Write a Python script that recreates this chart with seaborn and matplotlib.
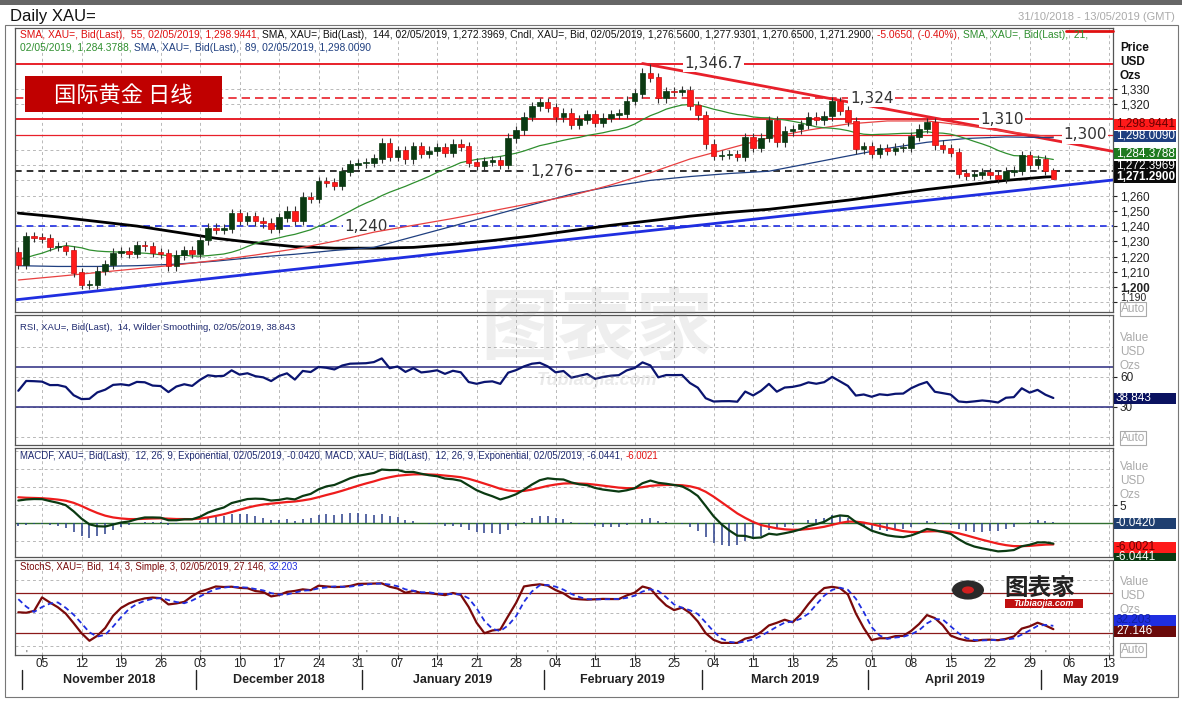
import numpy as np
import pandas as pd
import matplotlib
matplotlib.use("Agg")
import matplotlib.pyplot as plt
from matplotlib.patches import Rectangle, Circle
import seaborn as sns

# ---------------- data ----------------
pre_closes = [1201, 1194, 1196, 1199, 1193, 1197, 1198, 1209, 1202, 1201, 1200, 1199, 1204, 1208,
              1207, 1202, 1199, 1194, 1183, 1187,
              1191, 1204, 1202, 1199, 1203, 1188, 1190, 1194, 1224, 1218, 1232, 1225, 1222,
              1227, 1227, 1222, 1237, 1231, 1232, 1234, 1228, 1223]
closes = [1214.8,
          1233.0, 1232.6,
          1231.9, 1226.5, 1226.6, 1223.9, 1209.6,
          1201.4, 1201.8, 1210.6, 1214.7, 1222.4,
          1223.5, 1221.9, 1227.3, 1226.8, 1222.6,
          1222.0, 1213.8, 1221.0, 1224.2, 1222.1,
          1230.9, 1238.7, 1237.6, 1238.3, 1248.3,
          1243.8, 1246.2, 1243.2, 1242.0, 1238.2,
          1245.6, 1250.0, 1243.5, 1259.1, 1257.9,
          1269.4, 1268.5, 1266.8, 1275.9, 1280.6,
          1281.3, 1281.8, 1284.5, 1294.6, 1285.5,
          1289.6, 1284.0, 1292.2, 1287.5, 1289.3,
          1291.8, 1288.2, 1293.9, 1292.4, 1281.8,
          1279.6, 1282.2, 1283.0, 1280.3, 1297.8,
          1303.0, 1311.7, 1318.7, 1321.3, 1317.8,
          1311.5, 1314.2, 1306.7, 1309.9, 1313.3,
          1307.8, 1311.0, 1313.1, 1313.9, 1322.2,
          1326.9, 1340.5, 1337.5, 1324.1, 1328.6,
          1328.5, 1328.8, 1319.3, 1312.8, 1293.9,
          1286.3, 1286.7, 1286.8, 1285.6, 1298.3,
          1291.3, 1297.9, 1309.2, 1295.1, 1302.4,
          1303.6, 1306.5, 1311.6, 1309.5, 1312.2,
          1321.9, 1315.7, 1308.8, 1290.6, 1292.3,
          1287.5, 1291.1, 1289.6, 1291.3, 1291.6,
          1298.6, 1303.8, 1307.9, 1293.2, 1290.8,
          1288.4, 1274.7, 1273.1, 1274.0, 1275.0,
          1273.6, 1271.3, 1276.0, 1276.6, 1286.3,
          1280.3, 1283.6, 1276.56, 1271.29]
last_open = 1276.56
wick = 3.0
high_override = {80: 1346.7, 131: 1277.93}
low_override = {131: 1270.65}

sma_idx = [0, 5, 10, 15, 20, 25, 30, 35, 40, 45, 50, 55, 60, 65, 70, 75, 80, 85, 90, 95,
           100, 105, 110, 115, 120, 125, 130, 131]
sma144 = [1248.5, 1246, 1243, 1240, 1236, 1232, 1229, 1226.5, 1225.5, 1225.5, 1226, 1228, 1230.5,
          1233.5, 1237, 1240.5, 1243.5, 1246.5, 1249, 1251, 1254, 1257, 1260.5, 1264, 1267, 1270,
          1272.2, 1272.4]
sma89 = [1214, 1213.5, 1213.5, 1214, 1215, 1217, 1219.5, 1221.5, 1224, 1226, 1233, 1240, 1247,
         1254, 1261, 1266, 1270, 1272.5, 1274.5, 1276, 1281, 1286, 1291, 1295, 1297.5, 1298.5,
         1298.1, 1298.0]
sma55 = [1204.6, 1207, 1209.5, 1212, 1214.5, 1217.5, 1221, 1225, 1230, 1236, 1240.5, 1245, 1250,
         1255, 1260, 1267, 1275, 1284, 1291, 1298, 1303, 1307, 1309, 1309, 1306, 1302, 1299,
         1298.9]

levels = [1346.7, 1324, 1310, 1300, 1276, 1240]
level_labels = ["1,346.7", "1,324", "1,310", "1,300", "1,276", "1,240"]
red_trend_x, red_trend_y = [79, 139], [1346.7, 1288.6]
blue_trend_x, blue_trend_y = [-0.5, 139], [1191.5, 1270.5]

day_labels = ["05", "12", "19", "26", "03", "10", "17", "24", "31", "07", "14", "21", "28", "04",
              "11", "18", "25", "04", "11", "18", "25", "01", "08", "15", "22", "29", "06", "13"]
month_names = ["November 2018", "December 2018", "January 2019", "February 2019",
               "March 2019", "April 2019", "May 2019"]
month_starts = [1, 23, 44, 67, 87, 108, 130]

# ---------------- calculations ----------------
allc = pd.Series(pre_closes + closes, dtype=float)
n_pre = len(pre_closes)
opens_all = allc.shift(1).fillna(allc.iloc[0])
opens_all.iloc[-1] = last_open
highs_all = np.maximum(opens_all, allc) + wick
lows_all = np.minimum(opens_all, allc) - wick
for k, v in high_override.items():
    highs_all.iloc[n_pre + k] = v
for k, v in low_override.items():
    lows_all.iloc[n_pre + k] = v

sma21 = allc.rolling(21).mean().iloc[n_pre:].to_numpy()
d = allc.diff()
up = d.clip(lower=0).ewm(alpha=1 / 14, adjust=False).mean()
dn = (-d.clip(upper=0)).ewm(alpha=1 / 14, adjust=False).mean()
rsi = (100 - 100 / (1 + up / dn)).iloc[n_pre:].to_numpy()
macd_all = allc.ewm(span=12, adjust=False).mean() - allc.ewm(span=26, adjust=False).mean()
sig_all = macd_all.ewm(span=9, adjust=False).mean()
macd = macd_all.iloc[n_pre:].to_numpy()
sig = sig_all.iloc[n_pre:].to_numpy()
hist = macd - sig
hh = highs_all.rolling(14).max()
ll = lows_all.rolling(14).min()
fastk = 100 * (allc - ll) / (hh - ll)
slowk = fastk.rolling(3).mean()
slowd = slowk.rolling(3).mean()
stk = slowk.iloc[n_pre:].to_numpy()
std = slowd.iloc[n_pre:].to_numpy()

o = opens_all.iloc[n_pre:].to_numpy()
c = allc.iloc[n_pre:].to_numpy()
h = highs_all.iloc[n_pre:].to_numpy()
l = lows_all.iloc[n_pre:].to_numpy()
idx = np.arange(len(c))

# ---------------- figure ----------------
W, H = 1182, 708
sns.set_theme(style="white")
plt.rcParams["font.family"] = ["Liberation Sans Narrow", "Liberation Sans", "DejaVu Sans"]
CJK = ["Noto Sans CJK SC", "Noto Sans CJK JP", "Noto Sans CJK TC", "Noto Sans CJK KR"]
fig = plt.figure(figsize=(W / 100, H / 100), dpi=100, facecolor="white")


def rect(x0, y0, x1, y1):
    return [x0 / W, 1 - y1 / H, (x1 - x0) / W, (y1 - y0) / H]


XL = (-0.42, 138.55)
GRID = dict(color="#b8b8b8", ls=(0, (3, 3)), lw=0.7)

ax = fig.add_axes(rect(15, 28, 1113, 312))
rsi_ax = fig.add_axes(rect(15, 315, 1113, 445))
macd_ax = fig.add_axes(rect(15, 448, 1113, 557))
st_ax = fig.add_axes(rect(15, 560, 1113, 655))
dax = fig.add_axes(rect(15, 655, 1113, 695))

week_ticks = np.arange(3, 139, 5)
for a in (ax, rsi_ax, macd_ax, st_ax):
    a.set_xlim(*XL)
    a.set_xticks([])
    for x in week_ticks:
        a.axvline(x, **GRID, zorder=0)
    for s in a.spines.values():
        s.set_color("#555555")
        s.set_linewidth(0.9)
    a.yaxis.tick_right()
    a.tick_params(axis="y", direction="out", length=3, width=0.8, pad=2,
                  labelsize=8.5, colors="#222222")

# main panel
ax.set_ylim(1183.6, 1370)
yt = np.arange(1190, 1331, 10)
ax.set_yticks(yt)
hidden = {1280, 1290, 1300, 1270, 1310}
ax.set_yticklabels(["" if v in hidden else f"{v:,}" for v in yt])
for lab in ax.get_yticklabels():
    if lab.get_text() == "1,200":
        lab.set_fontweight("bold")
    if lab.get_text() == "1,190":
        lab.set_fontsize(7.5)
        lab.set_va("bottom")
for v in yt:
    ax.axhline(v, **GRID, zorder=0)

ax.plot(blue_trend_x, blue_trend_y, color="#1f2ee0", lw=2, zorder=2)
ax.plot(red_trend_x, red_trend_y, color="#e8202a", lw=2, zorder=2)
ax.axhline(levels[0], color="#e8202a", lw=1.4, zorder=2)
ax.axhline(levels[1], color="#e8202a", lw=1.2, ls=(0, (5, 3)), zorder=2)
ax.axhline(levels[2], color="#e8202a", lw=1.4, zorder=2)
ax.axhline(levels[3], color="#e8202a", lw=0.9, zorder=2)
ax.axhline(levels[4], color="#111111", lw=1.2, ls=(0, (4, 3)), zorder=2)
ax.axhline(levels[5], color="#1f2ee0", lw=1.2, ls=(0, (4, 3)), zorder=2)
lab_pos = [88, 108, 124.5, 135, 67.5, 44]
for v, t, px in zip(levels, level_labels, lab_pos):
    ax.text(px, v, t, fontsize=11, color="#333333", ha="center", va="center",
            family="DejaVu Sans", zorder=3,
            bbox=dict(fc="white", ec="none", pad=1.0))

sns.lineplot(x=sma_idx, y=sma144, ax=ax, color="black", lw=2, zorder=3)
sns.lineplot(x=sma_idx, y=sma89, ax=ax, color="#1f3f80", lw=0.9, zorder=3)
sns.lineplot(x=sma_idx, y=sma55, ax=ax, color="#e84040", lw=0.9, zorder=3)
sns.lineplot(x=idx, y=sma21, ax=ax, color="#2f8f2f", lw=0.9, zorder=3)

upc = c >= o
col = np.where(upc, "#0b3a12", "#ff1a1a")
ax.vlines(idx, l, h, color="#333333", lw=0.8, zorder=4)
ax.bar(idx, np.abs(c - o) + 0.4, bottom=np.minimum(o, c) - 0.2, width=0.7,
       color=col, edgecolor=np.where(upc, "#0b3a12", "#c81010"), lw=0.5, zorder=5)
ax.set_xlim(*XL)

# RSI
rsi_ax.set_ylim(-8, 122)
rsi_ax.set_yticks([30, 60])
for v in [0, 30, 60, 90]:
    rsi_ax.axhline(v, **GRID, zorder=0)
rsi_ax.axhline(70, color="#2a2a80", lw=1.1)
rsi_ax.axhline(30, color="#2a2a80", lw=1.1)
sns.lineplot(x=idx, y=rsi, ax=rsi_ax, color="#0a1470", lw=1.6)

# MACD
macd_ax.set_ylim(-9.4, 20.8)
macd_ax.set_yticks([5])
for v in [-5, 5, 10, 15, 20]:
    macd_ax.axhline(v, **GRID, zorder=0)
macd_ax.axhline(0, color="#2f6f2f", lw=1.0)
macd_ax.vlines(idx, 0, hist, color="#2a3f8a", lw=1.1)
sns.lineplot(x=idx, y=sig, ax=macd_ax, color="#ee1c1c", lw=1.6)
sns.lineplot(x=idx, y=macd, ax=macd_ax, color="#0b3a12", lw=1.6)

# Stoch
st_ax.set_ylim(-13, 129.5)
st_ax.set_yticks([])
for v in [0, 50, 100]:
    st_ax.axhline(v, **GRID, zorder=0)
st_ax.axhline(80, color="#8b1a1a", lw=0.9)
st_ax.axhline(20, color="#8b1a1a", lw=0.9)
sns.lineplot(x=idx, y=stk, ax=st_ax, color="#7a0a0a", lw=1.6)
sns.lineplot(x=idx, y=std, ax=st_ax, color="#1f2ee0", lw=1.3, ls=(0, (3, 2)))

for a in (ax, rsi_ax, macd_ax, st_ax):
    a.set_xlabel("")
    a.set_ylabel("")
    a.set_xlim(*XL)

# date axis
dax.set_xlim(*XL)
dax.set_ylim(0, 1)
dax.axis("off")
for x, t in zip(week_ticks, day_labels):
    dax.plot([x, x], [1.0, 0.9], color="#333", lw=0.8)
    dax.text(x, 0.78, t, ha="center", va="center", fontsize=8.5, color="#222")
bounds = [m - 0.5 for m in month_starts] + [138.5]
for i, m in enumerate(month_names):
    b0 = bounds[i]
    dax.plot([b0, b0], [0.62, 0.15], color="#222", lw=1.0)
    dax.text(b0 + 0.5, 1.0, "'", ha="center", va="center", fontsize=7, color="#444")
    b1 = bounds[i + 1]
    dax.text((b0 + b1) / 2 if i < 6 else b0 + 6.2, 0.38, m, ha="center", va="center",
             fontsize=9, fontweight="bold", color="#222")

# ---------------- texts & decorations ----------------
fig.patches.append(Rectangle((5 / W, 1 - 697 / H), 1173 / W, 672 / H, transform=fig.transFigure,
                             fill=False, ec="#777", lw=0.8))
fig.patches.append(Rectangle((0, 1 - 5 / H), 1, 5 / H, transform=fig.transFigure,
                             fc="#666666", ec="none"))
fig.text(10 / W, 1 - 16 / H, "Daily XAU=", fontsize=12, color="#111", va="center")
fig.text(1175 / W, 1 - 17 / H, "31/10/2018 - 13/05/2019 (GMT)", fontsize=8, color="#aaaaaa",
         ha="right", va="center")
renderer = fig.canvas.get_renderer()


def chain(x, y, pieces, size=7.4):
    for s, colr in pieces:
        t = fig.text(x / W, 1 - y / H, s, color=colr, fontsize=size, va="center")
        x += t.get_window_extent(renderer).width


chain(20, 35, [("SMA, XAU=, Bid(Last),  55, 02/05/2019, 1,298.9441, ", "#e01010"),
               ("SMA, XAU=, Bid(Last),  144, 02/05/2019, 1,272.3969, Cndl, XAU=, Bid, 02/05/2019, "
                "1,276.5600, 1,277.9301, 1,270.6500, 1,271.2900, ", "#111111"),
               ("-5.0650, (-0.40%), ", "#e01010"),
               ("SMA, XAU=, Bid(Last),  21, ", "#2f8f2f")])
chain(20, 48, [("02/05/2019, 1,284.3788, ", "#2f8f2f"),
               ("SMA, XAU=, Bid(Last),  89, 02/05/2019, 1,298.0090", "#1f3f80")])
chain(20, 327, [("RSI, XAU=, Bid(Last),  14, Wilder Smoothing, 02/05/2019, 38.843", "#1f2a70")],
      size=6.8)
chain(20, 456, [("MACDF, XAU=, Bid(Last),  12, 26, 9, Exponential, 02/05/2019, -0.0420, MACD, XAU=, "
                 "Bid(Last),  12, 26, 9, Exponential, 02/05/2019, -6.0441, ", "#1f2a70"),
                ("-6.0021", "#e01010")], size=6.9)
chain(20, 567, [("StochS, XAU=, Bid,  14, 3, Simple, 3, 02/05/2019, 27.146, ", "#7a0a0a"),
                ("32.203", "#1f2ee0")], size=6.9)
fig.lines.append(plt.Line2D([1066 / W, 1113 / W], [1 - 31 / H, 1 - 31 / H],
                            transform=fig.transFigure, color="#e01010", lw=2))

for yy, t in zip([48, 62, 76], ["Price", "USD", "Ozs"]):
    fig.text(1120 / W, 1 - yy / H, t, fontsize=8.5, fontweight="bold", color="#111", va="center")
for base in [338, 467, 582]:
    for k, t in enumerate(["Value", "USD", "Ozs"]):
        fig.text(1120 / W, 1 - (base + 14 * k) / H, t, fontsize=8.5, color="#aaaaaa", va="center")
for yy in [309, 438, 650]:
    fig.text(1121 / W, 1 - yy / H, "Auto", fontsize=8.5, color="#aaaaaa", va="center",
             bbox=dict(fc="white", ec="#aaaaaa", pad=0.8, lw=0.8))


def vbox(y, text, fc, tc="white", bold=False, h=11):
    fig.patches.append(Rectangle((1114 / W, 1 - (y + h / 2) / H), 62 / W, h / H,
                                 transform=fig.transFigure, fc=fc, ec="none", zorder=5))
    fig.text(1116 / W, 1 - y / H, text, fontsize=8.5, color=tc, va="center", zorder=6,
             fontweight="bold" if bold else "normal")


vbox(124, "1,298.9441", "#ff1a1a", tc="#6a0000")
vbox(136, "1,298.0090", "#1f3f80")
vbox(153, "1,284.3788", "#1e7a1e")
vbox(166, "1,272.3969", "#0a0a0a")
vbox(177, "1,271.2900", "#0a0a0a", bold=True)
vbox(398, "38.843", "#0a1260")
vbox(523, "-0.0420", "#1f3f70")
vbox(547, "-6.0021", "#ff1a1a", tc="#6a0000")
vbox(557, "-6.0441", "#0b3a12", h=8)
vbox(620, "32.203", "#1f2ee0", tc="#1020a0")
vbox(631, "27.146", "#6a0a0a")

# title box
fig.patches.append(Rectangle((25 / W, 1 - 112 / H), 197 / W, 36 / H, transform=fig.transFigure,
                             fc="#c00000", ec="none", zorder=5))
fig.text(123 / W, 1 - 95 / H, "国际黄金 日线", fontsize=16, color="white", ha="center",
         va="center", family=CJK, zorder=6)

# watermark
fig.text(597 / W, 1 - 330 / H, "图表家", fontsize=56, color="#999999", alpha=0.16,
         ha="center", va="center", family=CJK, fontweight="bold")
fig.text(597 / W, 1 - 380 / H, "Tubiaojia.com", fontsize=13, color="#999999", alpha=0.2,
         ha="center", va="center", fontweight="bold", style="italic")
# logo
fig.patches.append(Circle((968 / W, 1 - 590 / H), 16 / W, transform=fig.transFigure,
                          fc="#2a2a2a", ec="none"))
fig.patches.append(Circle((968 / W, 1 - 590 / H), 6 / W, transform=fig.transFigure,
                          fc="#d02020", ec="none"))
fig.text(1040 / W, 1 - 589 / H, "图表家", fontsize=17, color="#222", ha="center", va="center",
         family=CJK, fontweight="bold")
fig.patches.append(Rectangle((1005 / W, 1 - 608 / H), 78 / W, 9 / H, transform=fig.transFigure,
                             fc="#c01010", ec="none"))
fig.text(1044 / W, 1 - 603.5 / H, "Tubiaojia.com", fontsize=6.5, color="white", ha="center",
         va="center", style="italic", fontweight="bold")

fig.savefig("out.png", dpi=100, facecolor="white")
